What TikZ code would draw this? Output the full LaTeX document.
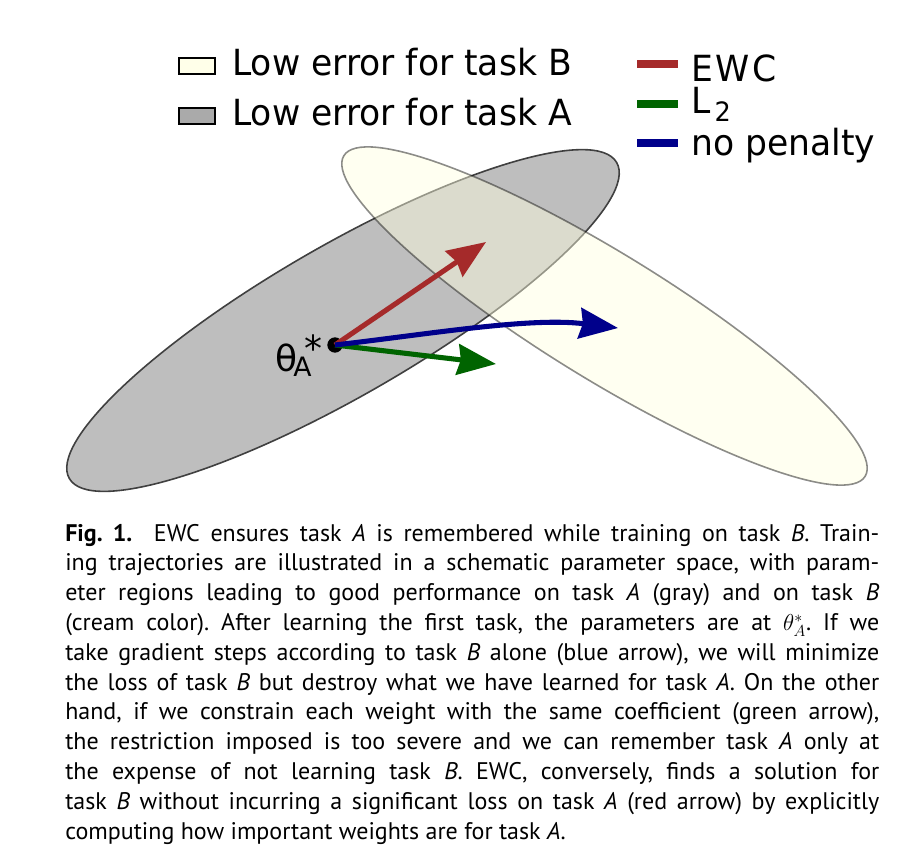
\documentclass[tikz,border=0pt]{standalone}
\usepackage{fontspec}
\setmainfont{PT Sans}
\newfontfamily\legfont[FakeStretch=0.96]{DejaVu Sans}
\newfontfamily\thetafont{DejaVu Sans}
\usetikzlibrary{arrows.meta}
\definecolor{ewcred}{HTML}{A52A2A}
\definecolor{ltwogreen}{HTML}{006400}
\definecolor{nopblue}{HTML}{00008B}
\definecolor{grayfill}{HTML}{BEBEBE}
\definecolor{graybox}{HTML}{AAAAAA}
\definecolor{creamfill}{HTML}{FFFFE0}
\begin{document}
\begin{tikzpicture}[x=0.75pt,y=0.75pt,
  legtext/.style={anchor=base west, inner sep=0pt, font=\legfont\fontsize{27pt}{30pt}\selectfont},
  legbox/.style={draw=black, line width=1.1pt, minimum width=27pt, minimum height=12pt, inner sep=0pt},
  legbar/.style={line width=6pt},
  traj/.style={line width=3.8pt, -{Stealth[length=29pt,width=23pt,inset=2.5pt]}},
  regA/.style={draw=black!75, line width=1.2pt, fill=grayfill},
  regB/.style={draw=black, line width=1.2pt, fill=creamfill, opacity=0.45},
]
\useasboundingbox (0,0) rectangle (914,-854);

% regions
\draw[regA, rotate around={30:(343,-320.5)}] (343,-320.5) ellipse [x radius=316, y radius=75];
\draw[regB, rotate around={-31.6:(604.5,-316)}] (604.5,-316) ellipse [x radius=306, y radius=63];

% legend
\node[legbox, fill=creamfill!70] (boxB) at (197,-66) {};
\node[legtext] (txtB) at (232,-75) {Low error for task B};
\node[legbox, fill=graybox] (boxA) at (197,-116) {};
\node[legtext] (txtA) at (232,-125) {Low error for task A};

\draw[legbar, ewcred] (637,-64) -- (678,-64);
\node[legtext] (txtEWC) at (691,-81) {E\kern2pt W\kern2pt C};
\draw[legbar, ltwogreen] (637,-104) -- (678,-104);
\node[legtext] (txtL) at (691,-113) {L\kern3pt\raisebox{-6pt}{\fontsize{20pt}{22pt}\selectfont 2}};
\draw[legbar, nopblue] (637,-143) -- (678,-143);
\node[legtext] (txtNP) at (691,-155) {no penalty};

% theta label
\node[anchor=base west, inner sep=0pt, font=\thetafont\fontsize{27pt}{30pt}\selectfont] (theta) at (275,-371)
  {θ\kern-3pt\raisebox{-4pt}{\fontsize{20pt}{22pt}\selectfont A}\kern-5pt\raisebox{7pt}{*}};

% trajectories
\coordinate (ewcTip) at (486,-242);
\coordinate (ltwoTip) at (496,-364);
\coordinate (nopTip) at (618,-328);
\node[circle, fill=black, inner sep=0pt, minimum size=11.5pt] (dot) at (335,-345) {};
\draw[traj, ewcred] (dot.center) -- (ewcTip);
\draw[traj, ltwogreen] (dot.center) -- (ltwoTip);
\draw[traj, nopblue] (dot.center) .. controls (430,-334) and (530,-317) .. (nopTip);

% caption
\node[anchor=base west, inner sep=0pt] (caption) at (65,-541) {\parbox[t]{610.5pt}{\fontsize{18pt}{22.35pt}\selectfont\frenchspacing
\textbf{Fig.~1.}\hspace{0.9em}EWC ensures task \textit{A} is remembered while training on task \textit{B}. Train-\linebreak
ing trajectories are illustrated in a schematic parameter space, with param-\linebreak
eter regions leading to good performance on task \textit{A} (gray) and on task \textit{B}\linebreak
(cream color). After learning the first task, the parameters are at $\theta_A^*$. If we\linebreak
take gradient steps according to task \textit{B} alone (blue arrow), we will minimize\linebreak
the loss of task \textit{B} but destroy what we have learned for task \textit{A}. On the other\linebreak
hand, if we constrain each weight with the same coefficient (green arrow),\linebreak
the restriction imposed is too severe and we can remember task \textit{A} only at\linebreak
the expense of not learning task \textit{B}. EWC, conversely, finds a solution for\linebreak
task \textit{B} without incurring a significant loss on task \textit{A} (red arrow) by explicitly\linebreak
computing how important weights are for task \textit{A}.}};
\end{tikzpicture}
\end{document}
